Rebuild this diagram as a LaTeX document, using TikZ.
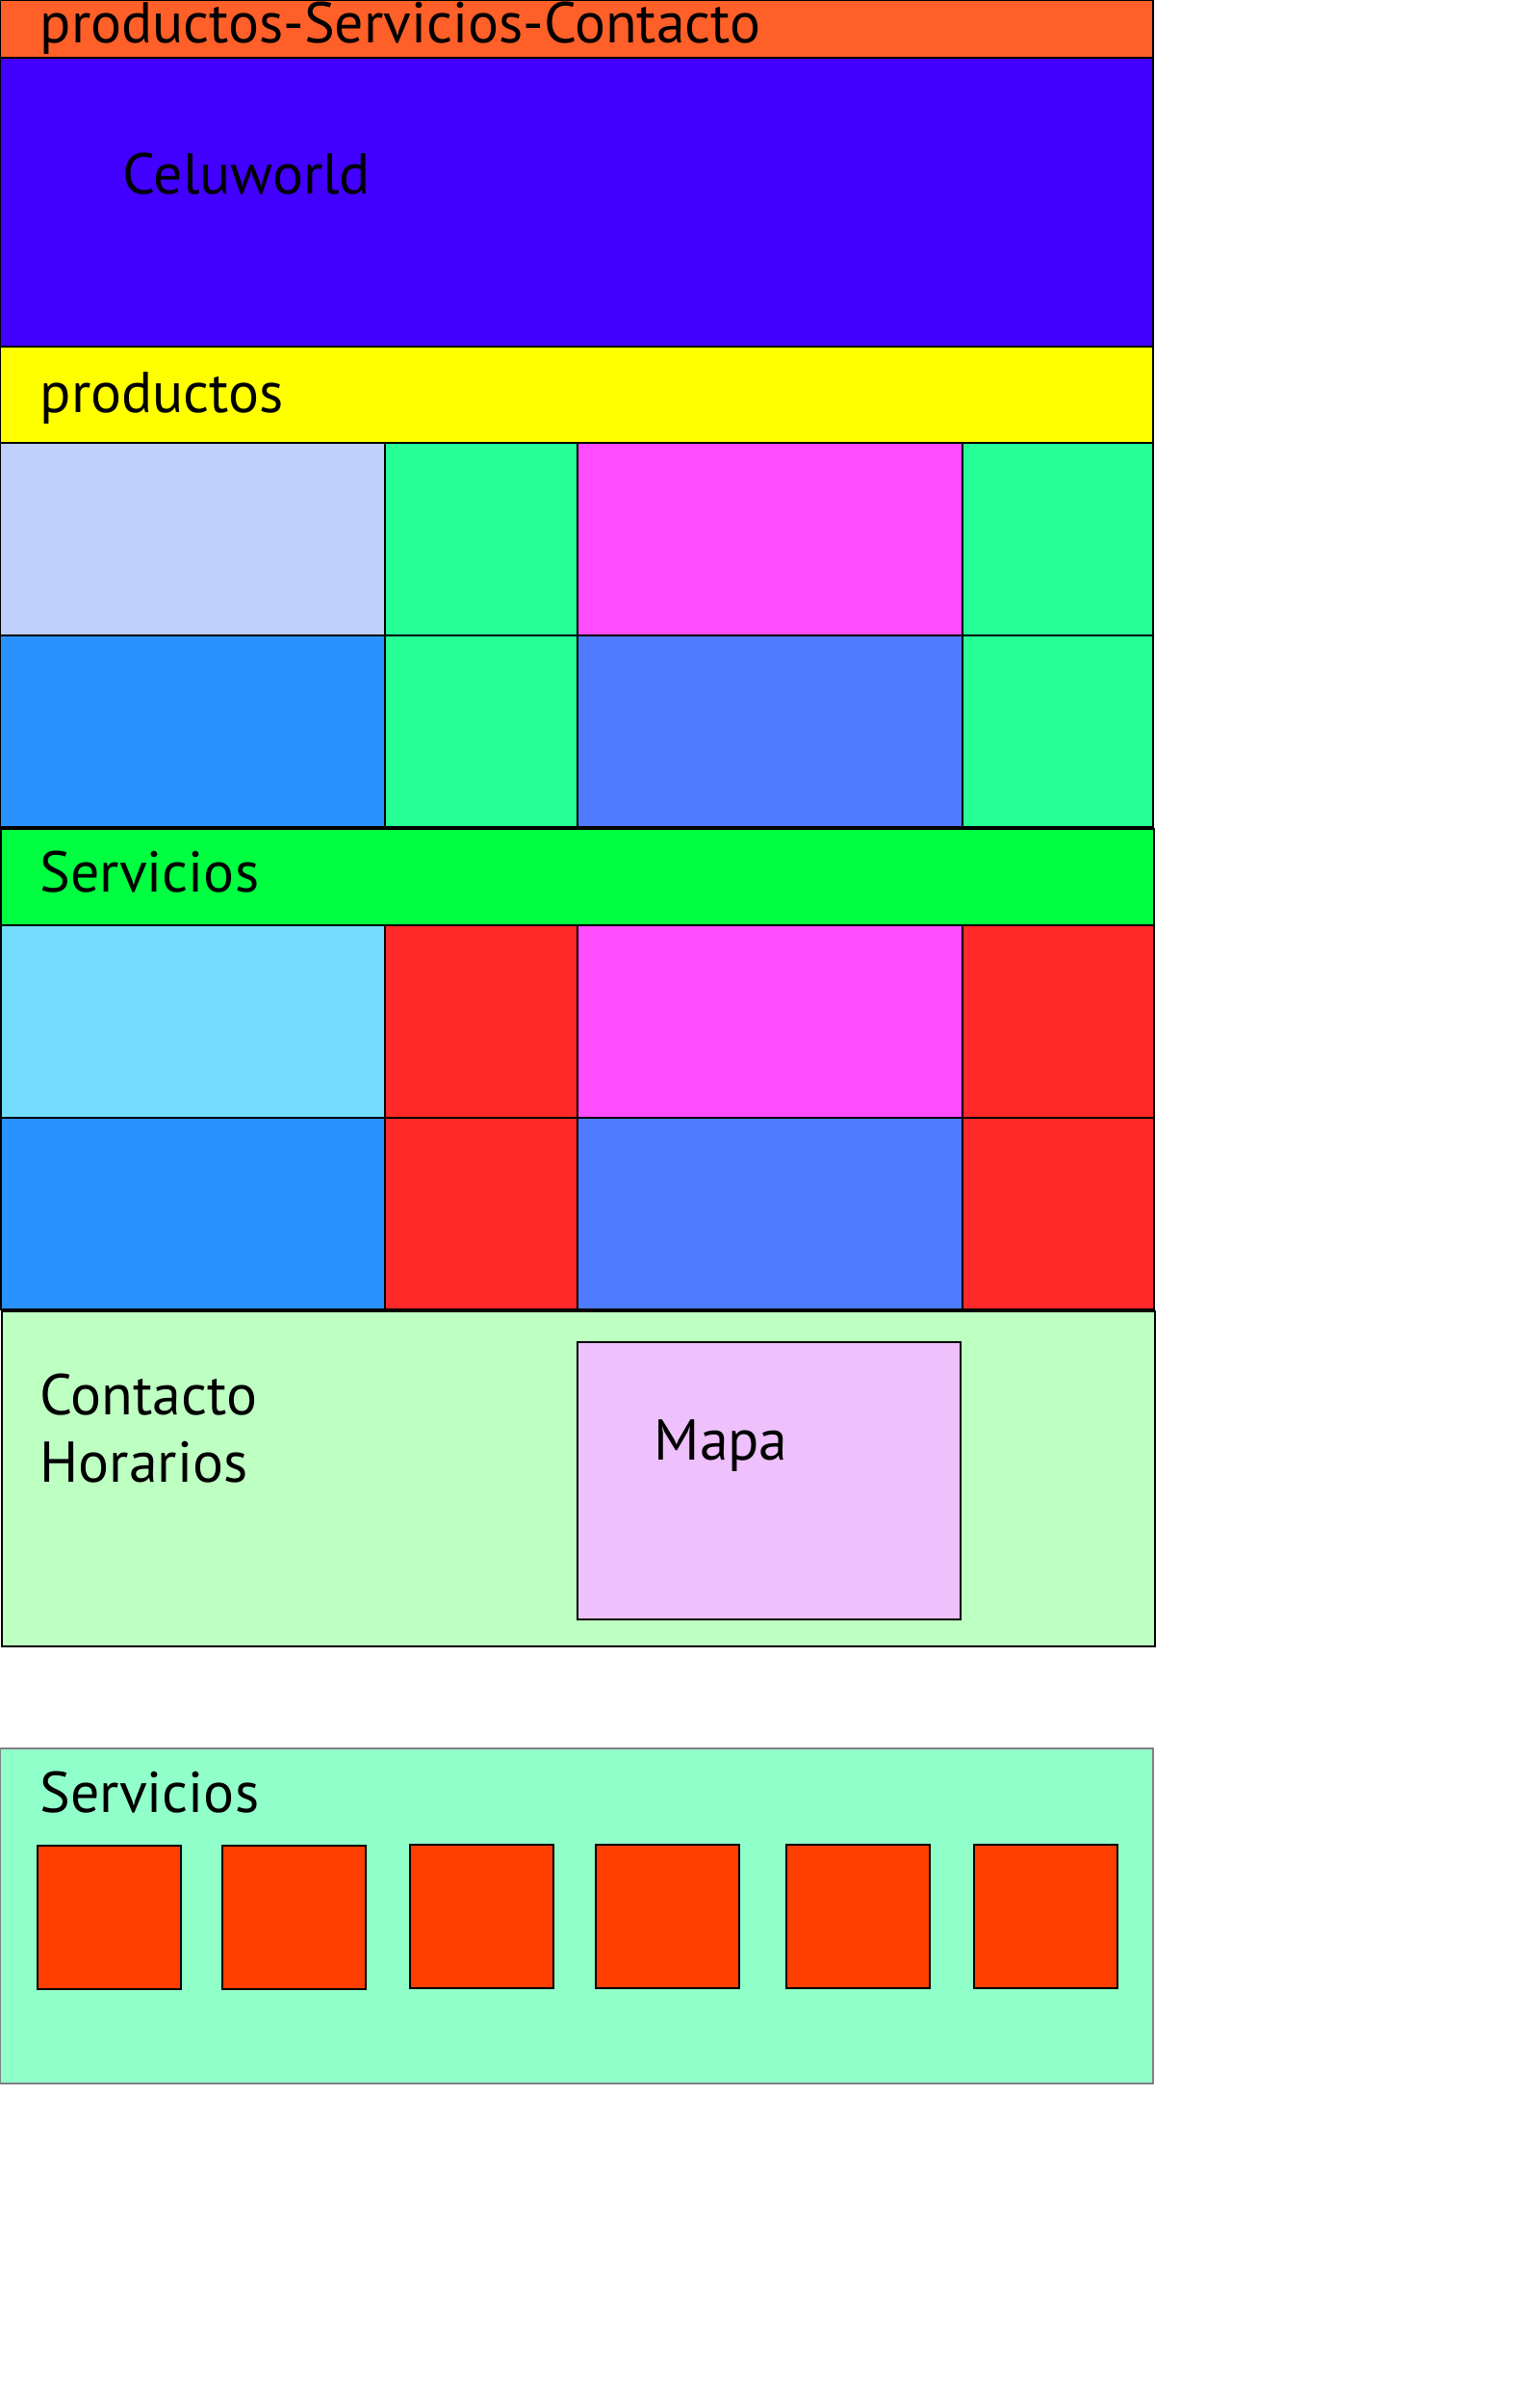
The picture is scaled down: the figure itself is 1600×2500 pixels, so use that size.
\documentclass[tikz,border=0pt]{standalone}
\usepackage{fontspec}
\setmainfont{PT Sans}
\definecolor{cHead}{RGB}{255,95,40}
\definecolor{cBrand}{RGB}{66,0,255}
\definecolor{cYellow}{RGB}{255,255,0}
\definecolor{cPeri}{RGB}{191,208,253}
\definecolor{cMint}{RGB}{38,255,150}
\definecolor{cMag}{RGB}{255,76,255}
\definecolor{cAzure}{RGB}{42,146,255}
\definecolor{cMedBlue}{RGB}{79,123,255}
\definecolor{cGreen}{RGB}{0,255,64}
\definecolor{cCyan}{RGB}{116,221,255}
\definecolor{cRed}{RGB}{255,41,41}
\definecolor{cPale}{RGB}{190,255,194}
\definecolor{cLilac}{RGB}{238,192,252}
\definecolor{cAqua}{RGB}{145,255,202}
\definecolor{cOrange}{RGB}{255,63,0}
\tikzset{
  cell/.style={draw=black, line width=0.45pt},
  label/.style={anchor=base west, inner sep=0pt, font=\fontsize{17}{20}\selectfont, text=black},
}
\begin{document}
\begin{tikzpicture}[x=0.01cm, y=-0.01cm]
\useasboundingbox (0,0) rectangle (1600,2500);
% header
\draw[cell, fill=cHead] (0,0) rectangle (1198,60);
\node[label] (nav) at (41,45) {productos-Servicios-Contacto};
% brand
\draw[cell, fill=cBrand] (0,60) rectangle (1198,360);
\node[label] (brand) at (127,202) {Celuworld};
% productos
\draw[cell, fill=cYellow] (0,360) rectangle (1198,460);
\node[label] (prod) at (41,428) {productos};
\draw[cell, fill=cPeri] (0,460) rectangle (400,660);
\draw[cell, fill=cMint] (400,460) rectangle (600,660);
\draw[cell, fill=cMag] (600,460) rectangle (1000,660);
\draw[cell, fill=cMint] (1000,460) rectangle (1198,660);
\draw[cell, fill=cAzure] (0,660) rectangle (400,859);
\draw[cell, fill=cMint] (400,660) rectangle (600,859);
\draw[cell, fill=cMedBlue] (600,660) rectangle (1000,859);
\draw[cell, fill=cMint] (1000,660) rectangle (1198,859);
% servicios
\draw[cell, fill=cGreen] (1,861) rectangle (1199,961);
\node[label] (serv) at (41,926) {Servicios};
\draw[cell, fill=cCyan] (1,961) rectangle (400,1161);
\draw[cell, fill=cRed] (400,961) rectangle (600,1161);
\draw[cell, fill=cMag] (600,961) rectangle (1000,1161);
\draw[cell, fill=cRed] (1000,961) rectangle (1199,1161);
\draw[cell, fill=cAzure] (1,1161) rectangle (400,1360);
\draw[cell, fill=cRed] (400,1161) rectangle (600,1360);
\draw[cell, fill=cMedBlue] (600,1161) rectangle (1000,1360);
\draw[cell, fill=cRed] (1000,1161) rectangle (1199,1360);
% contacto
\draw[cell, fill=cPale] (2,1362) rectangle (1200,1710);
\node[label] (cont) at (41,1469) {Contacto};
\node[label] (hor) at (41,1539) {Horarios};
\draw[cell, line width=0.3pt, fill=cLilac] (600,1394) rectangle (998,1682);
\node[label] (mapa) at (679,1516) {Mapa};
% bottom servicios
\draw[draw=gray, line width=0.5pt, fill=cAqua] (0,1816) rectangle (1198,2164);
\node[label] (serv2) at (41,1882) {Servicios};
\foreach \x/\t in {39/1917,231/1917,426/1916,619/1916,817/1916,1012/1916}{
  \draw[cell, fill=cOrange] (\x,\t) rectangle ++(149,149);
}
\end{tikzpicture}
\end{document}
